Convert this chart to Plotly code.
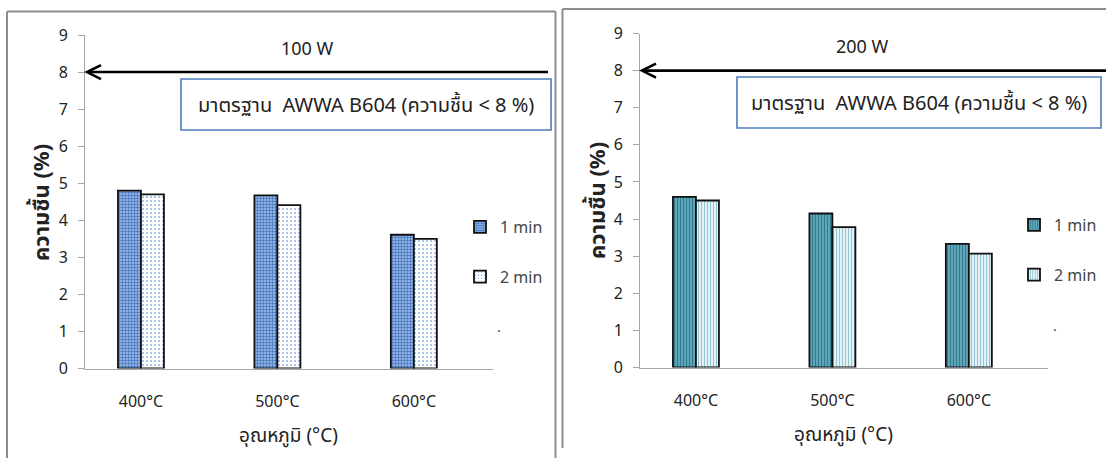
import plotly.graph_objects as go

W, H = 1106, 458

categories = ["400°C", "500°C", "600°C"]
series_names = ["1 min", "2 min"]
left_1min = [4.80, 4.67, 3.61]
left_2min = [4.70, 4.41, 3.50]
right_1min = [4.60, 4.15, 3.33]
right_2min = [4.50, 3.78, 3.07]
y_ticks = [0, 1, 2, 3, 4, 5, 6, 7, 8, 9]
standard_limit = 8
panel_titles = ["100 W", "200 W"]
box_text = "มาตรฐาน  AWWA B604 (ความชื้น &lt; 8 %)"
x_title = "อุณหภูมิ (°C)"
y_title = "ความชื้น (%)"

FONT = "Noto Sans, Noto Sans Thai, Tahoma, sans-serif"


def px(x):
    return x / W


def py(y):
    return 1 - y / H


fig = go.Figure()

styles = {
    ("L", 0): dict(shape=".", fgcolor="#3f73c0", bgcolor="#a9c3ea", size=3, solidity=0.5),
    ("L", 1): dict(shape=".", fgcolor="#8fb0de", bgcolor="#ffffff", size=4, solidity=0.2),
    ("R", 0): dict(shape="|", fgcolor="#2e7d91", bgcolor="#64a8bb", size=3, solidity=0.4),
    ("R", 1): dict(shape="|", fgcolor="#8fc5d4", bgcolor="#eef7f9", size=3, solidity=0.4),
}

for side, vals, xa, ya, lg in [
    ("L", [left_1min, left_2min], "x", "y", "legend"),
    ("R", [right_1min, right_2min], "x2", "y2", "legend2"),
]:
    for i, (name, v) in enumerate(zip(series_names, vals)):
        st = styles[(side, i)]
        fig.add_trace(go.Bar(
            x=categories, y=v, name=name, xaxis=xa, yaxis=ya, legend=lg,
            legendgroup=f"{side}{i}",
            marker=dict(
                color=st["bgcolor"],
                line=dict(color="#111111", width=1.8),
                pattern=dict(shape=st["shape"], fgcolor=st["fgcolor"], bgcolor=st["bgcolor"],
                             size=st["size"], solidity=st["solidity"], fillmode="replace"),
            ),
            hoverinfo="x+y+name",
        ))

axis_common = dict(
    showgrid=False, zeroline=False, showline=True, linecolor="#a6a6a6", linewidth=1,
    automargin=False,
    tickfont=dict(family=FONT, size=16, color="#222222"),
)

fig.update_layout(
    xaxis=dict(domain=[px(85), px(493)], range=[-0.41, 2.58], type="category",
               anchor="y", ticks="", ticklabelstandoff=18, **axis_common),
    yaxis=dict(domain=[py(368.5), py(35)], range=[0, 9], tickvals=y_ticks, anchor="x",
               ticks="outside", ticklen=6, tickcolor="#a6a6a6", ticklabelstandoff=7, **axis_common),
    xaxis2=dict(domain=[px(640), px(1048)], range=[-0.41, 2.58], type="category",
                anchor="y2", ticks="", ticklabelstandoff=18, **axis_common),
    yaxis2=dict(domain=[py(367.5), py(33.5)], range=[0, 9], tickvals=y_ticks, anchor="x2",
                ticks="outside", ticklen=6, tickcolor="#a6a6a6", ticklabelstandoff=7, **axis_common),
    barmode="group", bargap=0.663, bargroupgap=0,
    width=W, height=H, autosize=False,
    margin=dict(l=0, r=0, t=0, b=0, pad=0, autoexpand=False),
    paper_bgcolor="white", plot_bgcolor="rgba(0,0,0,0)",
    showlegend=True,
    legend=dict(x=px(460), y=py(210), xanchor="left", yanchor="top",
                traceorder="grouped", tracegroupgap=26, itemwidth=30,
                font=dict(family=FONT, size=16, color="#444444"), bgcolor="rgba(0,0,0,0)"),
    legend2=dict(x=px(1014), y=py(208), xanchor="left", yanchor="top",
                 traceorder="grouped", tracegroupgap=26, itemwidth=30,
                 font=dict(family=FONT, size=16, color="#444444"), bgcolor="rgba(0,0,0,0)"),
)

shapes = []
annotations = []

# panel borders
border = dict(color="#8c8c8c", width=2)
shapes.append(dict(type="line", xref="paper", yref="paper", x0=px(7), x1=px(7), y0=py(11.5), y1=-0.05, line=border))
shapes.append(dict(type="line", xref="paper", yref="paper", x0=px(7), x1=px(555.5), y0=py(11.5), y1=py(11.5), line=border))
shapes.append(dict(type="line", xref="paper", yref="paper", x0=px(555.5), x1=px(555.5), y0=py(11.5), y1=-0.05, line=border))
shapes.append(dict(type="line", xref="paper", yref="paper", x0=px(562.5), x1=px(562.5), y0=py(9), y1=py(448), line=border))
shapes.append(dict(type="line", xref="paper", yref="paper", x0=px(562.5), x1=1.02, y0=py(9), y1=py(9), line=border))

panels = [
    dict(xa="x", ya="y", tip=87, end=548, title_x=307, title_y=48,
         box=(181, 79, 551, 130), ytitle_x=40, ytitle_y=203, xtitle_x=288, xtitle_y=435, dot=(499, 326)),
    dict(xa="x2", ya="y2", tip=642, end=1106, title_x=862, title_y=46,
         box=(737, 77, 1101, 128), ytitle_x=596, ytitle_y=201, xtitle_x=843, xtitle_y=434, dot=(1055, 325)),
]

for i, p in enumerate(panels):
    # standard line at y = 8 with open arrow head
    shapes.append(dict(type="line", xref="paper", yref=p["ya"], x0=px(p["tip"] + 1), x1=px(p["end"]),
                       y0=standard_limit, y1=standard_limit, line=dict(color="black", width=2.6)))
    shapes.append(dict(type="path", xref="paper", yref=p["ya"], xsizemode="pixel", ysizemode="pixel",
                       xanchor=px(p["tip"]), yanchor=standard_limit,
                       path="M 14 7 L 0 0 L 14 -7", line=dict(color="black", width=2.6)))
    # standard box
    x0, y0, x1, y1 = p["box"]
    shapes.append(dict(type="rect", xref="paper", yref="paper", x0=px(x0), x1=px(x1), y0=py(y1), y1=py(y0),
                       line=dict(color="#4a7ebb", width=1.6), fillcolor="white"))
    annotations.append(dict(text=box_text, xref="paper", yref="paper", x=px((x0 + x1) / 2), y=py((y0 + y1) / 2),
                            xanchor="center", yanchor="middle",
                            showarrow=False, font=dict(family=FONT, size=20, color="#222222")))
    # panel title
    annotations.append(dict(text=panel_titles[i], xref="paper", yref="paper", x=px(p["title_x"]), y=py(p["title_y"]),
                            xanchor="center", yanchor="middle",
                            showarrow=False, font=dict(family=FONT, size=18, color="#222222")))
    # axis titles
    annotations.append(dict(text=f"<b>{y_title}</b>", xref="paper", yref="paper", x=px(p["ytitle_x"]), y=py(p["ytitle_y"]),
                            xanchor="center", yanchor="middle",
                            textangle=-90, showarrow=False, font=dict(family=FONT, size=22, color="#222222")))
    annotations.append(dict(text=x_title, xref="paper", yref="paper", x=px(p["xtitle_x"]), y=py(p["xtitle_y"]),
                            xanchor="center", yanchor="middle",
                            showarrow=False, font=dict(family=FONT, size=19, color="#222222")))
    annotations.append(dict(text=".", xref="paper", yref="paper", x=px(p["dot"][0]), y=py(p["dot"][1]),
                            xanchor="center", yanchor="middle",
                            showarrow=False, font=dict(family=FONT, size=14, color="#444444")))

fig.update_layout(shapes=shapes, annotations=annotations)

fig.write_html("out.html", config={"displayModeBar": False},
               post_script="document.body.style.margin='0';document.body.style.overflow='hidden';")
